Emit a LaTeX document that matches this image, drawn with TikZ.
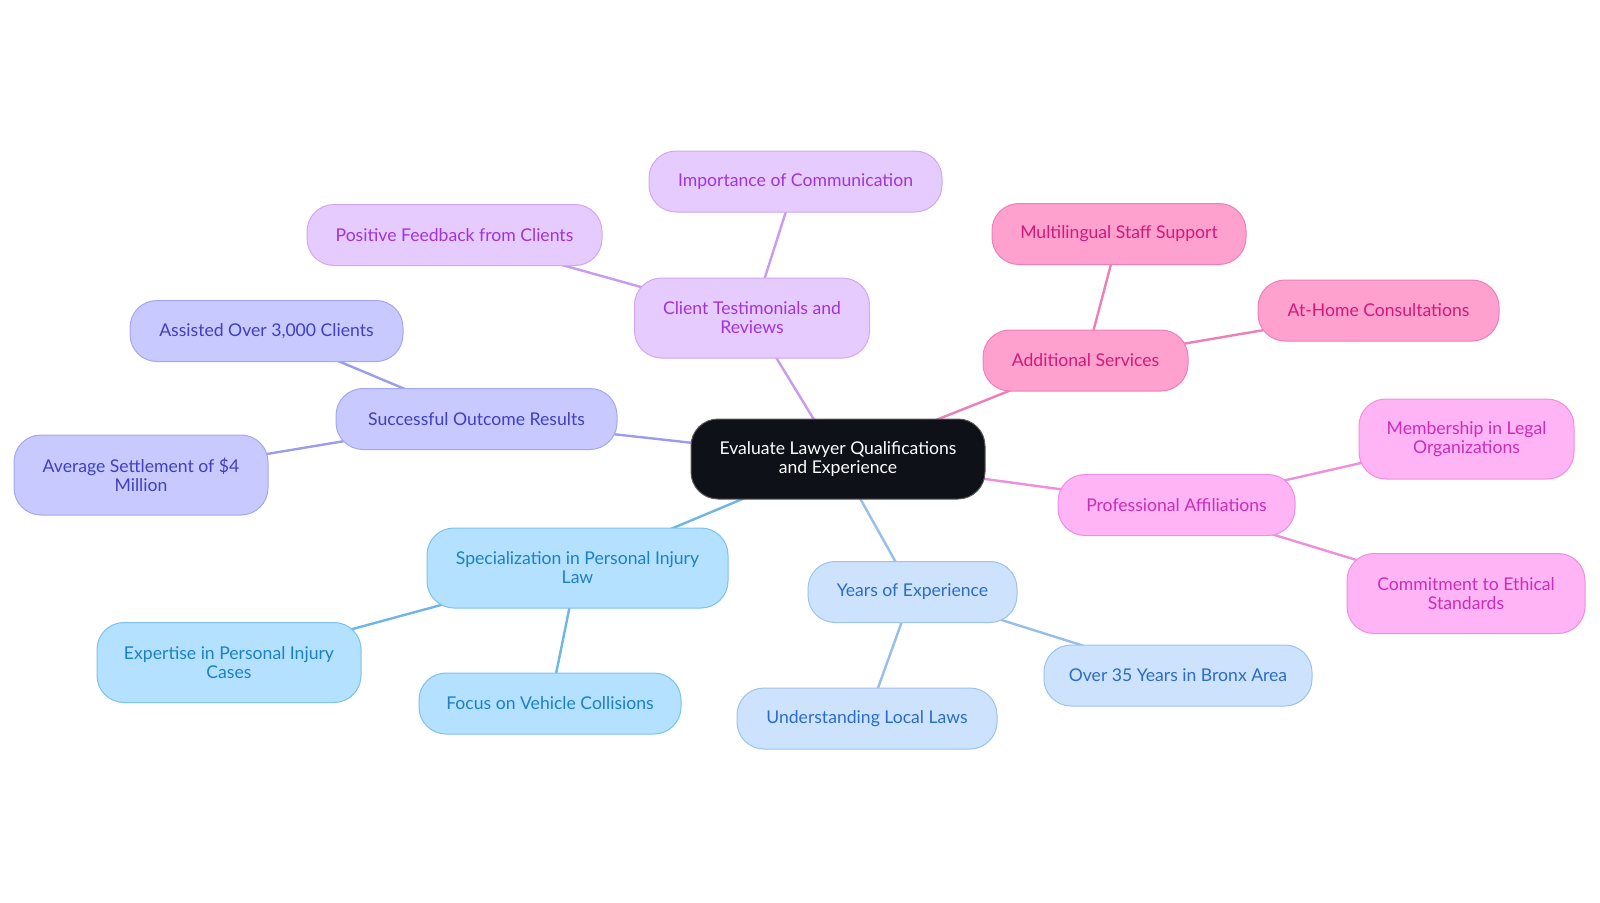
\documentclass[tikz,border=0pt]{standalone}
\usepackage{fontspec}
\setmainfont{Lato}
\usepackage{xcolor}
\usepackage{tikz}
\usetikzlibrary{shapes,backgrounds,positioning}

\definecolor{rootfill}{HTML}{0E1117}
\definecolor{purpfill}{HTML}{E6CBFF}
\definecolor{purpline}{HTML}{D2A6F2}
\definecolor{purptext}{HTML}{A034D8}
\definecolor{purpedge}{HTML}{C99BF0}
\definecolor{pinkfill}{HTML}{FFA1CF}
\definecolor{pinkline}{HTML}{F07DB8}
\definecolor{pinktext}{HTML}{D4187A}
\definecolor{pinkedge}{HTML}{EE7FB6}
\definecolor{violfill}{HTML}{C8CAFF}
\definecolor{violline}{HTML}{A3A6F0}
\definecolor{violtext}{HTML}{3E3FC2}
\definecolor{violedge}{HTML}{9A9CEE}
\definecolor{bluefill}{HTML}{B4E1FF}
\definecolor{blueline}{HTML}{7CC1F0}
\definecolor{bluetext}{HTML}{1C80C6}
\definecolor{blueedge}{HTML}{6FB6E8}
\definecolor{palefill}{HTML}{CDE2FD}
\definecolor{paleline}{HTML}{9CC2EE}
\definecolor{paletext}{HTML}{2C6CC6}
\definecolor{paleedge}{HTML}{96BEEC}
\definecolor{magfill}{HTML}{FFB4F5}
\definecolor{magline}{HTML}{F08DE0}
\definecolor{magtext}{HTML}{CB2DB6}
\definecolor{magedge}{HTML}{EE8FDC}

\begin{document}
\begin{tikzpicture}
[x=1pt,y=-1pt,every node/.style={draw,rounded corners=27pt,inner sep=0pt,
	minimum height=61pt,align=center,line width=1pt,
	font=\fontsize{17.6}{19}\selectfont},
 lnk/.style={line width=2.4pt},
 rootbox/.style={fill=rootfill,draw=gray!70!black,text=white,minimum height=80pt},
 purpbox/.style={fill=purpfill,draw=purpline,text=purptext},
 pinkbox/.style={fill=pinkfill,draw=pinkline,text=pinktext},
 violbox/.style={fill=violfill,draw=violline,text=violtext},
 bluebox/.style={fill=bluefill,draw=blueline,text=bluetext},
 palebox/.style={fill=palefill,draw=paleline,text=paletext},
 magbox/.style={fill=magfill,draw=magline,text=magtext},
 two/.style={minimum height=80pt}]
\useasboundingbox (0,0) rectangle (1600,902);

\node[rootbox,minimum width=294pt] (root) at (838,459) {Evaluate Lawyer Qualifications\\and Experience};

\node[purpbox,two,minimum width=235pt] (ctr) at (752,318) {Client Testimonials and\\Reviews};
\node[purpbox,minimum width=293pt] (comm) at (795.5,181.5) {Importance of Communication};
\node[purpbox,minimum width=295pt] (feed) at (454.5,235) {Positive Feedback from Clients};

\node[pinkbox,minimum width=205pt] (serv) at (1085.5,360.5) {Additional Services};
\node[pinkbox,minimum width=254pt] (multi) at (1119,234) {Multilingual Staff Support};
\node[pinkbox,minimum width=241pt] (home) at (1378.5,310.5) {At-Home Consultations};

\node[violbox,minimum width=281pt] (succ) at (476.5,419) {Successful Outcome Results};
\node[violbox,minimum width=273pt] (assist) at (266.5,331) {Assisted Over 3,000 Clients};
\node[violbox,two,minimum width=254pt] (avg) at (141,475) {Average Settlement of \$4\\Million};

\node[bluebox,two,minimum width=301pt] (spec) at (577.5,568) {Specialization in Personal Injury\\Law};
\node[bluebox,two,minimum width=264pt] (exp) at (229,662.5) {Expertise in Personal Injury\\Cases};
\node[bluebox,minimum width=262pt] (veh) at (550,703.5) {Focus on Vehicle Collisions};

\node[palebox,minimum width=209pt] (years) at (912.5,592) {Years of Experience};
\node[palebox,minimum width=268pt] (bronx) at (1178,675.5) {Over 35 Years in Bronx Area};
\node[palebox,minimum width=260pt] (local) at (867,718.5) {Understanding Local Laws};

\node[magbox,minimum width=237pt] (prof) at (1176.5,505) {Professional Affiliations};
\node[magbox,two,minimum width=215pt] (memb) at (1466.5,439) {Membership in Legal\\Organizations};
\node[magbox,two,minimum width=238pt] (ethic) at (1466,593.5) {Commitment to Ethical\\Standards};

\begin{scope}[on background layer]
\foreach \startNode/\endNode/\col in {root/ctr/purpedge,ctr/comm/purpedge,ctr/feed/purpedge,
	root/serv/pinkedge,serv/multi/pinkedge,serv/home/pinkedge,
	root/succ/violedge,succ/assist/violedge,succ/avg/violedge,
	root/spec/blueedge,spec/exp/blueedge,spec/veh/blueedge,
	root/years/paleedge,years/bronx/paleedge,years/local/paleedge,
	root/prof/magedge,prof/memb/magedge,prof/ethic/magedge}
{
	\draw[lnk,draw=\col] (\startNode.center) -- (\endNode.center);
}
\end{scope}
\end{tikzpicture}
\end{document}
